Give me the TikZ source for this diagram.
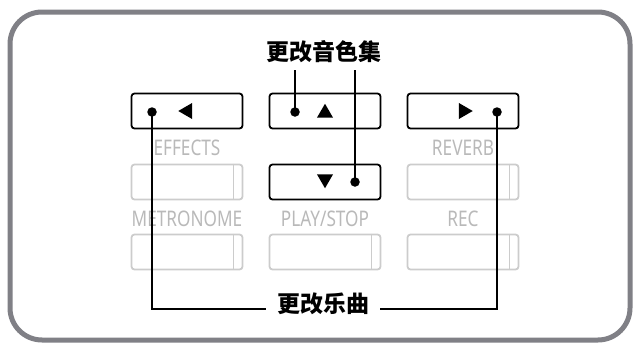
\documentclass[tikz,border=0pt]{standalone}
\usepackage{fontspec}
\newfontfamily\cjkfont{Noto Sans CJK SC}
\newfontfamily\panelfont[FakeStretch=0.8]{Noto Sans}
\usetikzlibrary{shapes.geometric,calc}
\definecolor{framegray}{RGB}{128,128,134}
\definecolor{dimgray}{RGB}{204,204,204}
\definecolor{dimtext}{RGB}{185,185,185}

\begin{document}
\begin{tikzpicture}[x=1pt,y=-1pt,
    keybox/.style={draw, line width=1.8pt, rounded corners=3pt,
      minimum width=111pt, minimum height=35pt, inner sep=0pt},
    dimbox/.style={keybox, draw=dimgray},
    dimlabel/.style={text=dimtext, font=\panelfont\fontsize{21.5}{21.5}\selectfont},
    heading/.style={font=\cjkfont\bfseries\fontsize{23}{23}\selectfont,
      inner xsep=11pt, inner ysep=7pt},
    dot/.style={circle, fill, inner sep=0pt, minimum size=9.5pt},
    arrowtri/.style={regular polygon, regular polygon sides=3, fill,
      inner sep=0pt, minimum size=18.5pt},
    callout/.style={line width=1.3pt}]
  \useasboundingbox (0,0) rectangle (633,343);
  \draw[framegray, line width=5pt, rounded corners=32pt] (10,12) rectangle (630,340);

  % panel keys that are not used
  \foreach \x/\y/\n in {187/182/effectsKey, 463/182/reverbKey,
                        187/252/metroKey, 325/252/playKey, 463/252/recKey} {
    \node[dimbox] (\n) at (\x,\y) {};
    \draw[dimgray, line width=1.8pt]
      ([xshift=-10pt]\n.north east) -- ([xshift=-10pt]\n.south east);
  }
  \node[dimlabel] (effectsLbl) at (187,148) {EFFECTS};
  \node[dimlabel] (reverbLbl) at (463,148) {REVERB};
  \node[dimlabel] (metroLbl) at (187,219) {METRONOME};
  \node[dimlabel] (playLbl) at (325,219) {PLAY/STOP};
  \node[dimlabel] (recLbl) at (463,219) {REC};

  % cursor keys
  \node[keybox] (leftKey) at (187,111) {};
  \node[keybox] (upKey) at (325,111) {};
  \node[keybox] (rightKey) at (463,111) {};
  \node[keybox] (downKey) at (325,182) {};

  \node[arrowtri, shape border rotate=90] (leftTri) at (187.5,111) {};
  \node[arrowtri] (upTri) at (325,113) {};
  \node[arrowtri, shape border rotate=-90] (rightTri) at (463.5,111) {};
  \node[arrowtri, shape border rotate=180] (downTri) at (325,179) {};

  \node[dot] (leftDot) at (152,112) {};
  \node[dot] (upDot) at (295,112) {};
  \node[dot] (rightDot) at (497,112) {};
  \node[dot] (downDot) at (355,182) {};

  % labels and callouts
  \node[heading] (setTitle) at (324,52) {更改音色集};
  \node[heading] (songTitle) at (323,304) {更改乐曲};

  \draw[callout] (setTitle.south -| upDot) -- (upDot.center);
  \draw[callout] (setTitle.south -| downDot) -- (downDot.center);
  \draw[callout] (leftDot.center) |- ([yshift=-5pt]songTitle.west);
  \draw[callout] (rightDot.center) |- ([yshift=-5pt]songTitle.east);
\end{tikzpicture}
\end{document}
